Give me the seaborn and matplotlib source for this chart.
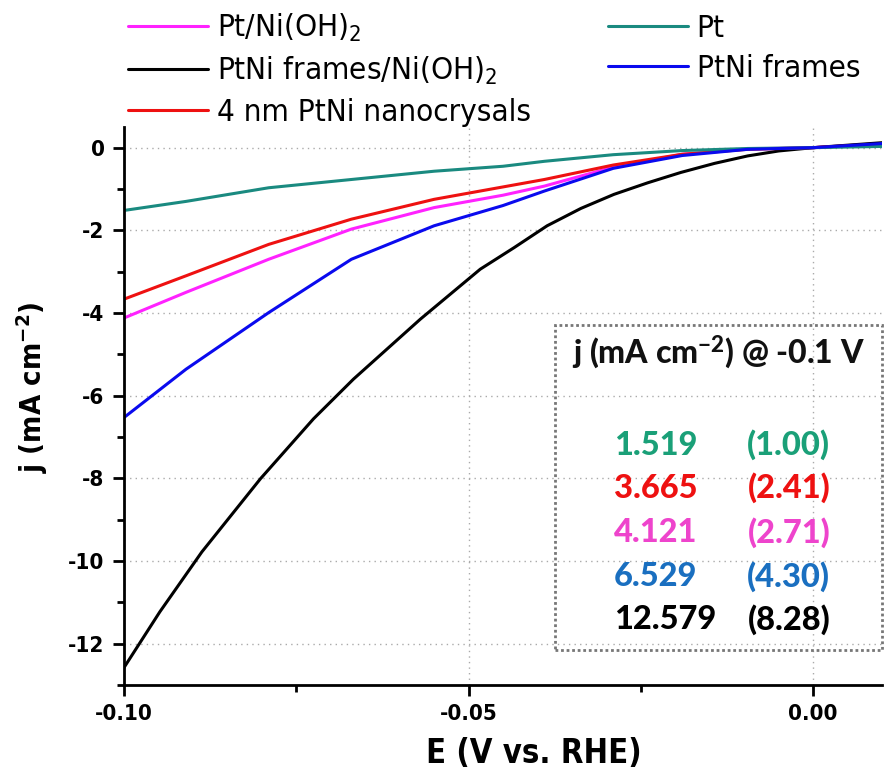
import matplotlib
matplotlib.use("Agg")
import matplotlib.pyplot as plt
import seaborn as sns
import numpy as np
import pandas as pd
from matplotlib.patches import Rectangle
from matplotlib.ticker import MultipleLocator, FormatStrFormatter

# ---------------- data ----------------
E_common = [-0.100, -0.091, -0.079, -0.067, -0.055, -0.045, -0.039, -0.029, -0.019, -0.0095, 0.0, 0.010]
j_pt = [-1.519, -1.30, -0.97, -0.77, -0.57, -0.45, -0.33, -0.17, -0.07, -0.02, 0.0, 0.03]
j_red = [-3.665, -3.10, -2.34, -1.73, -1.25, -0.95, -0.77, -0.42, -0.16, -0.04, 0.0, 0.08]
j_mag = [-4.121, -3.50, -2.70, -1.97, -1.45, -1.15, -0.93, -0.47, -0.16, -0.03, 0.0, 0.10]
j_blue = [-6.529, -5.36, -3.99, -2.70, -1.89, -1.40, -1.05, -0.50, -0.19, -0.04, 0.0, 0.10]

E_black = [-0.100, -0.0948, -0.0887, -0.0802, -0.0725, -0.0667, -0.057, -0.0483, -0.0434,
           -0.0386, -0.0337, -0.0289, -0.0240, -0.0192, -0.0143, -0.0095, -0.0050, 0.0, 0.010]
j_black = [-12.579, -11.23, -9.78, -8.01, -6.56, -5.60, -4.15, -2.94, -2.42,
           -1.89, -1.47, -1.13, -0.85, -0.60, -0.38, -0.20, -0.08, 0.0, 0.12]

legend_labels = ["Pt/Ni(OH)$_2$", "PtNi frames/Ni(OH)$_2$", "4 nm PtNi nanocrysals", "Pt", "PtNi frames"]
table_values = ["1.519", "3.665", "4.121", "6.529", "12.579"]
table_ratios = ["(1.00)", "(2.41)", "(2.71)", "(4.30)", "(8.28)"]
table_header = "j (mA cm$^{-2}$) @ -0.1 V"

x_ticks = [-0.10, -0.05, 0.00]
y_ticks = [0, -2, -4, -6, -8, -10, -12]

# ---------------- style ----------------
sns.set_style("white")
plt.rcParams['font.family'] = ['DejaVu Sans']
plt.rcParams['font.stretch'] = 'condensed'
plt.rcParams['mathtext.default'] = 'regular'
plt.rcParams['text.color'] = 'black'
plt.rcParams['axes.labelcolor'] = 'black'
plt.rcParams['xtick.color'] = 'black'
plt.rcParams['ytick.color'] = 'black'

c_pt = '#1a8a80'
c_red = '#ee1111'
c_mag = '#ff22ff'
c_blue = '#0a0aee'
c_black = '#000000'

fig = plt.figure(figsize=(8.85, 7.73), dpi=100)
ax = fig.add_axes([124/885, 1-685/773, (882-124)/885, (685-127)/773])

lw = 2.2
sns.lineplot(x=E_common, y=j_mag, ax=ax, color=c_mag, lw=lw, label=legend_labels[0], sort=False)
sns.lineplot(x=E_black, y=j_black, ax=ax, color=c_black, lw=lw, label=legend_labels[1], sort=False)
sns.lineplot(x=E_common, y=j_red, ax=ax, color=c_red, lw=lw, label=legend_labels[2], sort=False)
sns.lineplot(x=E_common, y=j_pt, ax=ax, color=c_pt, lw=lw, label=legend_labels[3], sort=False)
sns.lineplot(x=E_common, y=j_blue, ax=ax, color=c_blue, lw=lw, label=legend_labels[4], sort=False)

ax.set_xlim(-0.1, 0.01)
ax.set_ylim(-13, 0.5)
ax.set_xticks(x_ticks)
ax.set_yticks(y_ticks)
ax.xaxis.set_minor_locator(MultipleLocator(0.025))
ax.yaxis.set_minor_locator(MultipleLocator(1))
ax.xaxis.set_major_formatter(FormatStrFormatter('%.2f'))
ax.yaxis.set_major_formatter(FormatStrFormatter('%d'))

for s in ['top', 'right']:
    ax.spines[s].set_visible(False)
for s in ['left', 'bottom']:
    ax.spines[s].set_linewidth(2)
    ax.spines[s].set_color('black')

ax.tick_params(which='major', direction='out', length=8, width=2, color='black',
               labelsize=16, pad=6, left=True, bottom=True)
ax.tick_params(which='minor', direction='out', length=5, width=2, color='black',
               left=True, bottom=True)
for lab in ax.get_xticklabels() + ax.get_yticklabels():
    lab.set_fontweight('bold')

ax.grid(True, which='major', linestyle=(0, (1, 3)), color='#aaaaaa', linewidth=1)

ax.set_xlabel("E (V vs. RHE)", fontsize=23.5, fontweight='bold')
ax.xaxis.set_label_coords(0.541, -0.094)
ax.set_ylabel("j (mA cm$^{-2}$)", fontsize=21, fontweight='bold')
ax.yaxis.set_label_coords(-0.098, 0.534)

# legend
handles, labels = ax.get_legend_handles_labels()
if ax.legend_:
    ax.legend_.remove()
leg = fig.legend(handles, labels, loc='upper left', bbox_to_anchor=(128/885, 1-12/773),
                 ncol=2, frameon=False, fontsize=22.5, handlelength=2.56, handletextpad=0.29,
                 columnspacing=2.45, labelspacing=0.35, borderpad=0, borderaxespad=0)

# inset table
rect = Rectangle((0.5686, 0.063), 1-0.5686, 0.645-0.063, transform=ax.transAxes,
                 fill=False, edgecolor='#777777', linestyle=(0, (1, 1)), linewidth=2, clip_on=False)
ax.add_patch(rect)

tfont = ['Lato', 'DejaVu Sans']
ax.text(0.7836, 0.597, table_header, transform=ax.transAxes, ha='center', va='center',
        fontsize=23, fontweight='black', family=tfont, color='#111111')
row_colors = ['#1aa078', '#ee1111', '#ee44cc', '#1a6fc0', '#000000']
row_y = [0.430, 0.353, 0.274, 0.194, 0.1165]
for v, r, c, yy in zip(table_values, table_ratios, row_colors, row_y):
    ax.text(0.6464, yy, v, transform=ax.transAxes, ha='left', va='center',
            fontsize=23.5, fontweight='black', family=tfont, color=c)
    ax.text(0.877, yy, r, transform=ax.transAxes, ha='center', va='center',
            fontsize=23.5, fontweight='black', family=tfont, color=c)

fig.savefig("out.png", dpi=100)
